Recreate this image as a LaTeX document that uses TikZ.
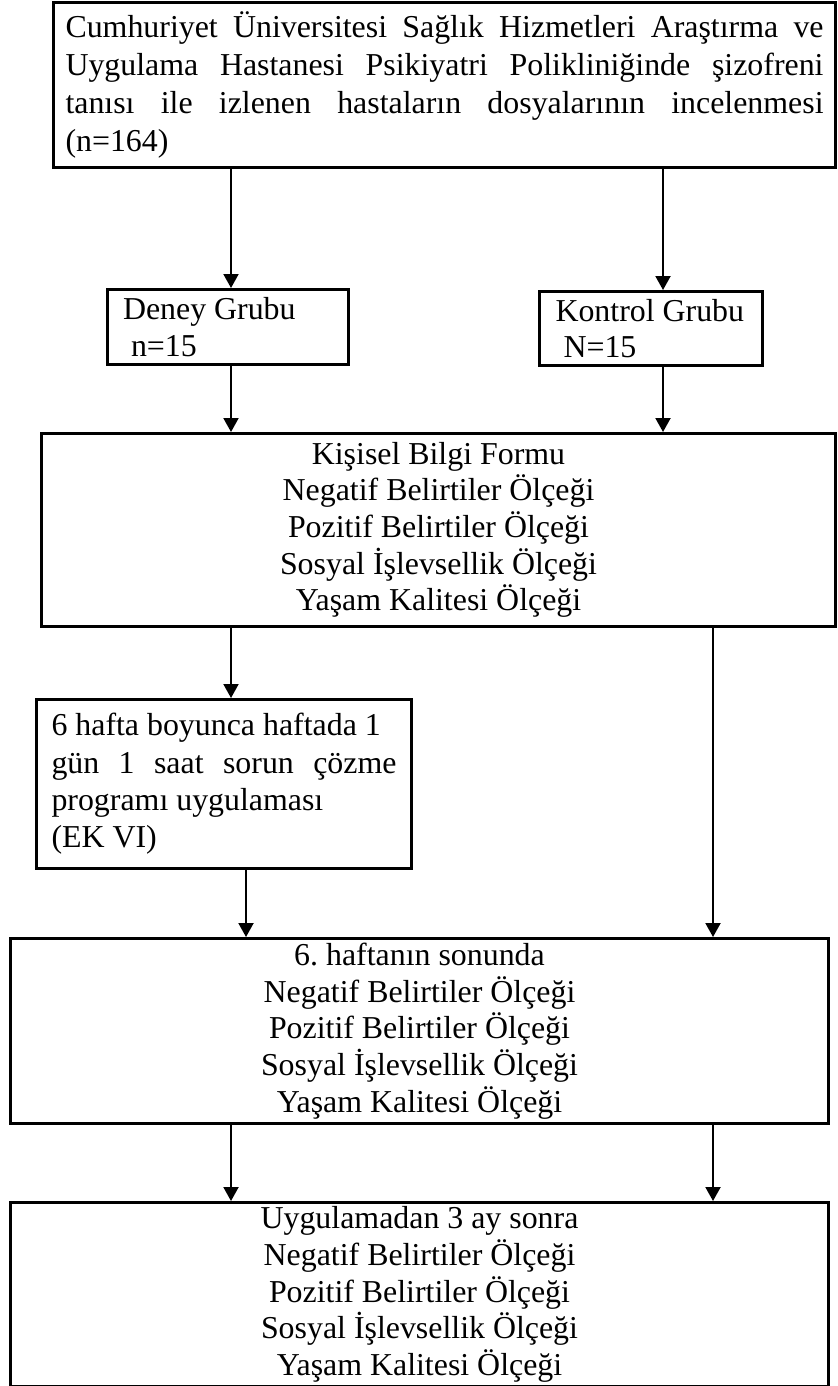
\documentclass[tikz,border=0pt]{standalone}
\usepackage{fontspec}
\setmainfont{Liberation Serif}
\usetikzlibrary{arrows.meta}
\hyphenpenalty=10000
\tolerance=10000
\frenchspacing
\setlength{\parindent}{0pt}

\tikzset{
  kutu/.style={draw, line width=3bp, anchor=north west, inner ysep=0pt,
    font={\fontsize{32}{36.8}\selectfont}},
  ok/.style={line width=2bp, -{Triangle[length=14bp,width=15bp]}}
}

\begin{document}
\begin{tikzpicture}[x=1bp,y=-1bp]
  \useasboundingbox (0,0) rectangle (837,1386);
  \node[kutu, minimum width=782bp, minimum height=165bp, inner xsep=12bp,
    text width=758bp, align=justify, font={\fontsize{32}{38.3}\selectfont}] (tarama) at (52,1)
    {Cumhuriyet Üniversitesi Sağlık Hizmetleri Araştırma ve\linebreak
     Uygulama Hastanesi Psikiyatri Polikliniğinde şizofreni\linebreak
     tanısı ile izlenen hastaların dosyalarının incelenmesi\linebreak
     (n=164)\par\vspace{16bp}};
  \node[kutu, minimum width=241bp, minimum height=75bp, inner xsep=4bp,
    text width=233bp, align=flush left] (deney) at (106,288)
    {\hspace*{11.5bp}Deney Grubu\\\hspace*{19.5bp}n=15};
  \node[kutu, minimum width=223bp, minimum height=74bp, inner xsep=4bp,
    text width=215bp, align=flush left] (kontrol) at (538,290)
    {\hspace*{12bp}Kontrol Grubu\\\hspace*{20bp}N=15};
  \node[kutu, minimum width=794bp, minimum height=193bp, align=center] (olcum1) at (40,432)
    {Kişisel Bilgi Formu\\Negatif Belirtiler Ölçeği\\Pozitif Belirtiler Ölçeği\\
     Sosyal İşlevsellik Ölçeği\\Yaşam Kalitesi Ölçeği};
  \node[kutu, minimum width=375bp, minimum height=169bp, inner xsep=15bp,
    text width=345bp, align=justify, font={\fontsize{32}{37.5}\selectfont}] (program) at (35,698)
    {6 hafta boyunca haftada 1\\
     gün 1 saat sorun çözme\linebreak
     programı uygulaması\\
     (EK VI)};
  \node[kutu, minimum width=818bp, minimum height=185bp, align=center] (olcum2) at (9,937)
    {6. haftanın sonunda\\Negatif Belirtiler Ölçeği\\Pozitif Belirtiler Ölçeği\\
     Sosyal İşlevsellik Ölçeği\\Yaşam Kalitesi Ölçeği};
  \node[kutu, minimum width=818bp, minimum height=184bp, align=center] (olcum3) at (9,1201)
    {Uygulamadan 3 ay sonra\\Negatif Belirtiler Ölçeği\\Pozitif Belirtiler Ölçeği\\
     Sosyal İşlevsellik Ölçeği\\Yaşam Kalitesi Ölçeği};
  % ok sutunlari
  \coordinate (sol) at (231,0);
  \coordinate (sag) at (663,0);
  \coordinate (orta) at (246,0);
  \coordinate (uc) at (713,0);
  \draw[ok] (tarama.south -| sol) -- (deney.north -| sol);
  \draw[ok] (tarama.south -| sag) -- (kontrol.north -| sag);
  \draw[ok] (deney.south -| sol) -- (olcum1.north -| sol);
  \draw[ok] (kontrol.south -| sag) -- (olcum1.north -| sag);
  \draw[ok] (olcum1.south -| sol) -- (program.north -| sol);
  \draw[ok] (olcum1.south -| uc) -- (olcum2.north -| uc);
  \draw[ok] (program.south -| orta) -- (olcum2.north -| orta);
  \draw[ok] (olcum2.south -| sol) -- (olcum3.north -| sol);
  \draw[ok] (olcum2.south -| uc) -- (olcum3.north -| uc);
\end{tikzpicture}
\end{document}
